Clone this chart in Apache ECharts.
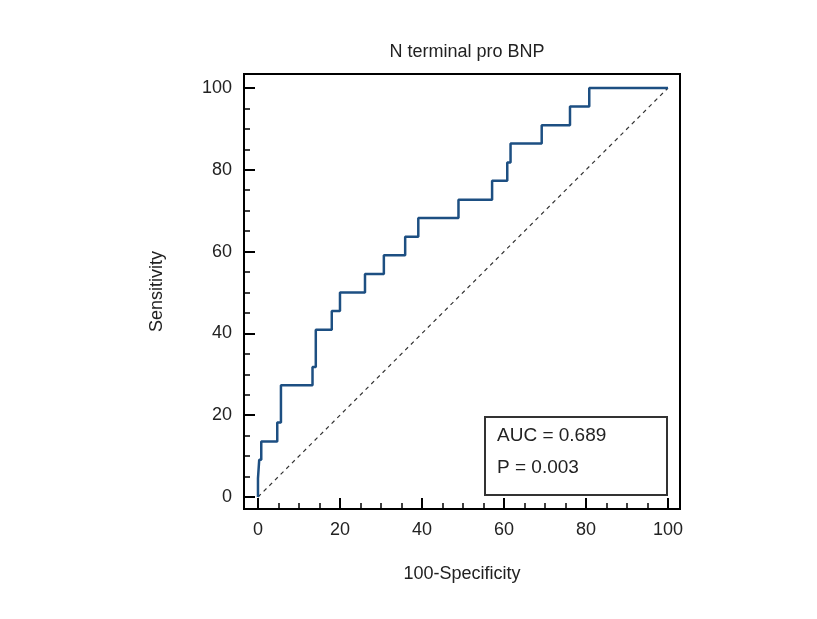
<!DOCTYPE html>
<html><head><meta charset="utf-8">
<script src="https://cdn.jsdelivr.net/npm/echarts@6/dist/echarts.min.js"></script>
<style>html,body{margin:0;padding:0;background:#fff}#c{width:817px;height:619px}</style>
</head><body><div id="c"></div>
<script>
// ROC step vertices: x = 100-Specificity where the rise occurs, y = Sensitivity after rise
const rocX = [0, 0, 0.3, 0.8, 4.7, 5.6, 13.3, 14.1, 18.0, 20.0, 26.1, 30.7, 35.9, 39.1, 48.9, 57.1, 60.8, 61.6, 69.2, 76.1, 80.8, 100];
const rocY = [0, 4.55, 9.09, 13.6, 18.2, 27.3, 31.8, 40.9, 45.5, 50.0, 54.5, 59.1, 63.6, 68.2, 72.7, 77.3, 81.8, 86.4, 90.9, 95.5, 100, 100];
const diagX = [0, 100];
const diagY = [0, 100];
const majorTicks = [0, 20, 40, 60, 80, 100];
const minorTicks = [5, 10, 15, 25, 30, 35, 45, 50, 55, 65, 70, 75, 85, 90, 95];
const titleText = 'N terminal pro BNP';
const xName = '100-Specificity';
const yName = 'Sensitivity';
const statLines = ['AUC = 0.689', 'P = 0.003'];

const FONT = 'Liberation Sans, Arial, sans-serif';
const AMIN = -3.41, XMAX = 102.93, YMIN = -2.93, YMAX = 103.42;

function mkAxis(isX, main, min, max) {
  const a = {
    type: 'value', min: min, max: max, gridIndex: 0,
    splitLine: { show: false },
    axisLine: { show: main, onZero: false, lineStyle: { color: '#000', width: 2 } },
    axisTick: {
      show: true, inside: true, length: main ? 11 : 6,
      customValues: main ? majorTicks : minorTicks,
      lineStyle: { color: '#000', width: main ? 2 : 1.5 }
    },
    axisLabel: main ? {
      show: true, customValues: majorTicks, margin: 12,
      color: '#222', fontSize: 18, fontFamily: FONT
    } : { show: false }
  };
  if (main) {
    a.name = isX ? xName : yName;
    a.nameLocation = 'middle';
    a.nameGap = isX ? 56 : 78;
    a.nameTextStyle = { color: '#222', fontSize: 18, fontFamily: FONT };
  }
  a.position = isX ? 'bottom' : 'left';
  return a;
}

const chart = echarts.init(document.getElementById('c'), null, { renderer: 'canvas' });
chart.setOption({
  backgroundColor: '#fff',
  animation: false,
  title: {
    text: titleText, left: 462, top: 38, textAlign: 'center',
    textStyle: { color: '#222', fontSize: 18, fontWeight: 'normal', fontFamily: FONT }
  },
  grid: { left: 244, right: 137, top: 74, bottom: 110, show: true, borderColor: '#000', borderWidth: 2, backgroundColor: 'transparent' },
  xAxis: [mkAxis(true, true, AMIN, XMAX), mkAxis(true, false, AMIN, XMAX)],
  yAxis: [mkAxis(false, true, YMIN, YMAX), mkAxis(false, false, YMIN, YMAX)],
  series: [
    {
      type: 'line', xAxisIndex: 0, yAxisIndex: 0,
      data: diagX.map((v, i) => [v, diagY[i]]),
      symbol: 'none', silent: true,
      lineStyle: { color: '#333', width: 1.2, type: [4, 4] }
    },
    {
      type: 'line', xAxisIndex: 0, yAxisIndex: 0,
      data: rocX.map((v, i) => [v, rocY[i]]),
      step: 'end', symbol: 'none',
      lineStyle: { color: '#1d4f82', width: 2.5 }
    }
  ],
  graphic: [
    { type: 'rect', shape: { x: 485, y: 417, width: 182, height: 78 },
      style: { fill: '#fff', stroke: '#333', lineWidth: 2 }, z: 100 },
    { type: 'text', x: 497, y: 436, z: 101,
      style: { text: statLines[0], fill: '#222', fontSize: 19, fontFamily: FONT, textVerticalAlign: 'middle', verticalAlign: 'middle' } },
    { type: 'text', x: 497, y: 468, z: 101,
      style: { text: statLines[1], fill: '#222', fontSize: 19, fontFamily: FONT, textVerticalAlign: 'middle', verticalAlign: 'middle' } }
  ]
});
</script></body></html>
